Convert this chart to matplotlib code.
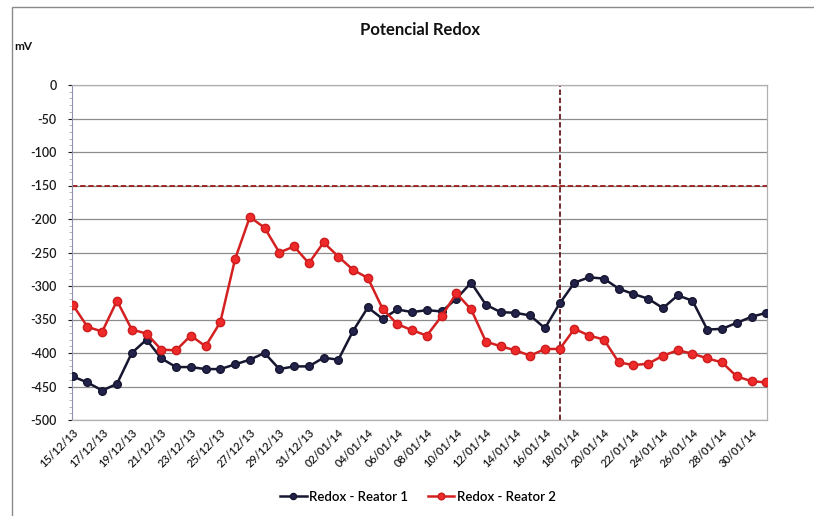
import matplotlib
matplotlib.use("Agg")
import matplotlib.pyplot as plt
from matplotlib.patches import Rectangle
from matplotlib.ticker import MultipleLocator
import numpy as np
import pandas as pd

plt.rcParams['font.family'] = ['Lato', 'DejaVu Sans']
plt.rcParams['axes.unicode_minus'] = False

dates = pd.date_range("2013-12-15", "2014-01-31", freq="D")
date_labels = [d.strftime("%d/%m/%y") for d in dates]

reator1 = [-435, -444, -456, -446, -400, -380, -408, -421, -421, -424,
           -424, -417, -410, -400, -424, -420, -420, -407, -410, -367,
           -332, -349, -335, -339, -336, -338, -319, -295, -328, -339,
           -340, -344, -363, -326, -295, -287, -289, -304, -312, -319,
           -333, -314, -322, -365, -364, -355, -346, -340]

reator2 = [-328, -361, -368, -322, -365, -371, -395, -396, -374, -390,
           -354, -260, -197, -213, -250, -241, -266, -235, -256, -276,
           -288, -334, -357, -366, -374, -345, -311, -335, -383, -390,
           -396, -404, -394, -394, -364, -374, -380, -414, -418, -416,
           -404, -396, -401, -408, -414, -435, -442, -444]

limite_redox = -150
data_corte = "17/01/14"

x = np.arange(len(dates))

fig = plt.figure(figsize=(8.14, 5.16), dpi=100)
fig.patch.set_facecolor("white")
fig.patches.append(Rectangle((12 / 814, -0.01), 1.1, 1 - 7 / 516 + 0.01,
                             transform=fig.transFigure, fill=False,
                             edgecolor="#8a8a8a", linewidth=1.0))

ax = fig.add_axes([72 / 814, 1 - 420 / 516, (767 - 72) / 814, (420 - 85) / 516])

ax.set_ylim(-500, 0)
ax.set_xlim(-0.05, len(x) - 1 + 0.05)
ax.yaxis.set_major_locator(MultipleLocator(50))
ax.yaxis.set_minor_locator(MultipleLocator(10))
ax.grid(axis="y", which="major", color="#8c8c8c", linewidth=0.9)
ax.set_axisbelow(True)

ax.axhline(limite_redox, color="#9b1c1c", linestyle=(0, (3, 1.5)), linewidth=1.3, zorder=2)
ax.axvline(date_labels.index(data_corte), color="#6b1a1a", linestyle=(0, (3, 1.5)),
           linewidth=1.3, zorder=2)

ax.plot(x, reator1, color="#161630", linewidth=1.8, marker="o", markersize=5.5,
        markerfacecolor="#22224a", markeredgecolor="#161630", label="Redox - Reator 1", zorder=3)
ax.plot(x, reator2, color="#d42020", linewidth=1.8, marker="o", markersize=6,
        markerfacecolor="#ee2a2a", markeredgecolor="#cc1c1c", label="Redox - Reator 2", zorder=3)

ax.set_xticks(x[::2])
ax.set_xticklabels(date_labels[::2], rotation=45, ha="right", rotation_mode="anchor",
                   fontsize=8, fontweight="semibold", color="#1a1a1a")
ax.tick_params(axis="x", length=0, pad=5)
ax.tick_params(axis="y", which="major", length=3, labelsize=9, colors="#1a1a1a", pad=8)
ax.tick_params(axis="y", which="minor", length=2, color="#aaaaaa")
for lbl in ax.get_yticklabels():
    lbl.set_fontweight("semibold")

for side in ["top", "right", "bottom"]:
    ax.spines[side].set_color("#b0b0b0")
    ax.spines[side].set_linewidth(0.9)
ax.spines["left"].set_color("#9090b0")
ax.spines["left"].set_linewidth(0.8)

fig.text(420 / 814, 1 - 30 / 516, "Potencial Redox", ha="center", va="center",
         fontsize=12, fontweight="bold", color="#111111")
fig.text(14 / 814, 1 - 47 / 516, "mV", ha="left", va="center",
         fontsize=8.5, fontweight="bold", color="#111111")

leg = fig.legend(loc="center", bbox_to_anchor=(418 / 814, 1 - 497 / 516), ncol=2,
                 frameon=False, fontsize=9.5, handlelength=2.0, columnspacing=1.5,
                 handletextpad=0.2, markerscale=0.8)
for t in leg.get_texts():
    t.set_fontweight("semibold")

fig.savefig("out.png", dpi=100, facecolor="white")
